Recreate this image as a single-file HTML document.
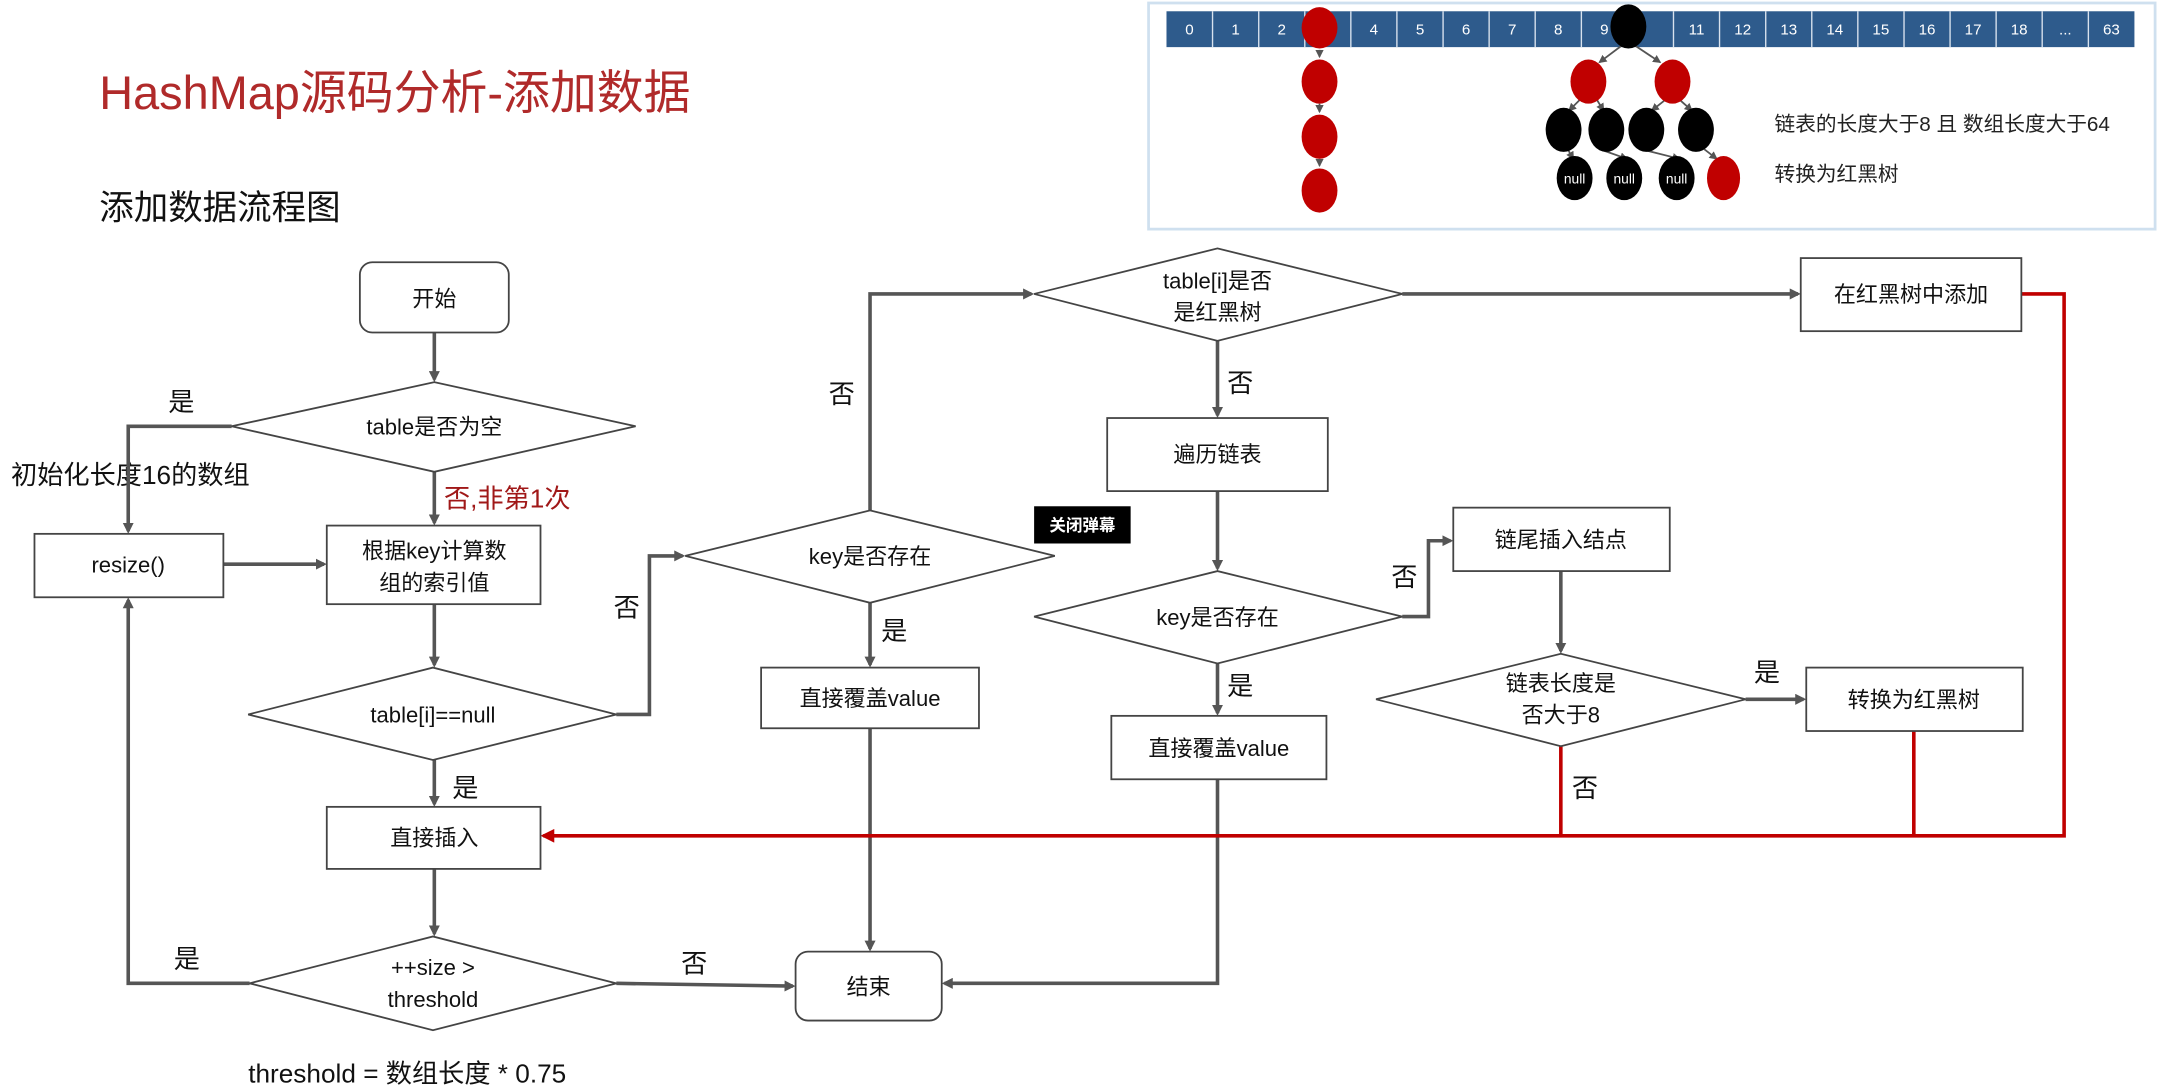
<!DOCTYPE html>
<html><head><meta charset="utf-8"><style>
html,body{margin:0;padding:0;background:#fff;}
svg{display:block;}
text{font-family:"Liberation Sans","Noto Sans CJK SC",sans-serif;}
</style></head><body>
<svg width="2162" height="1087" viewBox="0 0 1568 788" xmlns="http://www.w3.org/2000/svg">
<defs>
<marker id="ag" markerWidth="8" markerHeight="8" refX="6" refY="4" orient="auto" markerUnits="userSpaceOnUse"><path d="M0,0 L8,4 L0,8 z" fill="#555"/></marker>
<marker id="ar" markerWidth="10" markerHeight="10" refX="8" refY="5" orient="auto" markerUnits="userSpaceOnUse"><path d="M0,0 L10,5 L0,10 z" fill="#c00000"/></marker>
<marker id="as" markerWidth="6" markerHeight="6" refX="5" refY="3" orient="auto" markerUnits="userSpaceOnUse"><path d="M0,0 L6,3 L0,6 z" fill="#555"/></marker>
</defs>
<rect width="1568" height="788" fill="#fff"/>
<rect x="833" y="2" width="730" height="164" fill="#fff" stroke="#cfe0ef" stroke-width="2"/>
<g font-size="11" fill="#fff" text-anchor="middle">
<rect x="846" y="8" width="702" height="26" fill="#2e5b8c"/>
<g stroke="#d8e2ee" stroke-width="1">
<line x1="879.4" y1="8" x2="879.4" y2="34"/><line x1="912.9" y1="8" x2="912.9" y2="34"/><line x1="946.3" y1="8" x2="946.3" y2="34"/><line x1="979.7" y1="8" x2="979.7" y2="34"/><line x1="1013.1" y1="8" x2="1013.1" y2="34"/><line x1="1046.6" y1="8" x2="1046.6" y2="34"/><line x1="1080" y1="8" x2="1080" y2="34"/><line x1="1113.4" y1="8" x2="1113.4" y2="34"/><line x1="1146.9" y1="8" x2="1146.9" y2="34"/><line x1="1180.3" y1="8" x2="1180.3" y2="34"/><line x1="1213.7" y1="8" x2="1213.7" y2="34"/><line x1="1247.1" y1="8" x2="1247.1" y2="34"/><line x1="1280.6" y1="8" x2="1280.6" y2="34"/><line x1="1314" y1="8" x2="1314" y2="34"/><line x1="1347.4" y1="8" x2="1347.4" y2="34"/><line x1="1380.9" y1="8" x2="1380.9" y2="34"/><line x1="1414.3" y1="8" x2="1414.3" y2="34"/><line x1="1447.7" y1="8" x2="1447.7" y2="34"/><line x1="1481.1" y1="8" x2="1481.1" y2="34"/><line x1="1514.6" y1="8" x2="1514.6" y2="34"/>
</g>
<text x="862.7" y="25">0</text><text x="896.1" y="25">1</text><text x="929.6" y="25">2</text><text x="996.4" y="25">4</text><text x="1029.9" y="25">5</text><text x="1063.3" y="25">6</text><text x="1096.7" y="25">7</text><text x="1130.1" y="25">8</text><text x="1163.6" y="25">9</text><text x="1230.4" y="25">11</text><text x="1263.9" y="25">12</text><text x="1297.3" y="25">13</text><text x="1330.7" y="25">14</text><text x="1364.1" y="25">15</text><text x="1397.6" y="25">16</text><text x="1431" y="25">17</text><text x="1464.4" y="25">18</text><text x="1497.9" y="25">...</text><text x="1531.3" y="25">63</text>
</g>
<g stroke="#555" stroke-width="1.3">
<line x1="957" y1="36" x2="957" y2="41" marker-end="url(#as)"/><line x1="957" y1="75" x2="957" y2="81" marker-end="url(#as)"/><line x1="957" y1="115" x2="957" y2="120" marker-end="url(#as)"/>
<line x1="1176" y1="33" x2="1160" y2="45" marker-end="url(#as)"/><line x1="1186" y1="33" x2="1204" y2="45" marker-end="url(#as)"/>
<line x1="1146" y1="72" x2="1138" y2="80" marker-end="url(#as)"/><line x1="1158" y1="72" x2="1163" y2="80" marker-end="url(#as)"/>
<line x1="1208" y1="72" x2="1198" y2="80" marker-end="url(#as)"/><line x1="1218" y1="72" x2="1227" y2="80" marker-end="url(#as)"/>
<line x1="1137" y1="108" x2="1141" y2="115" marker-end="url(#as)"/><line x1="1160" y1="108" x2="1180" y2="115" marker-end="url(#as)"/>
<line x1="1190" y1="108" x2="1218" y2="115" marker-end="url(#as)"/><line x1="1236" y1="108" x2="1245" y2="115" marker-end="url(#as)"/>
</g>
<g fill="#c00000">
<ellipse cx="957" cy="20" rx="13" ry="15"/><ellipse cx="957" cy="59" rx="13" ry="16"/><ellipse cx="957" cy="99" rx="13" ry="16"/><ellipse cx="957" cy="138" rx="13" ry="16"/>
<ellipse cx="1152" cy="59" rx="13" ry="16"/><ellipse cx="1213" cy="59" rx="13" ry="16"/><ellipse cx="1250" cy="129" rx="12" ry="16"/>
</g>
<g fill="#000">
<ellipse cx="1181" cy="19" rx="13" ry="16"/>
<ellipse cx="1134" cy="94" rx="13" ry="16"/><ellipse cx="1165" cy="94" rx="13" ry="16"/><ellipse cx="1194" cy="94" rx="13" ry="16"/><ellipse cx="1230" cy="94" rx="13" ry="16"/>
<ellipse cx="1142" cy="129" rx="13" ry="16"/><ellipse cx="1178" cy="129" rx="13" ry="16"/><ellipse cx="1216" cy="129" rx="13" ry="16"/>
</g>
<g font-size="10" fill="#fff" text-anchor="middle"><text x="1142" y="133">null</text><text x="1178" y="133">null</text><text x="1216" y="133">null</text></g>
<text x="1287" y="95" font-size="15" fill="#222">链表的长度大于8 且 数组长度大于64</text>
<text x="1287" y="131" font-size="15" fill="#222">转换为红黑树</text>

<text x="72" y="79" font-size="34" fill="#b02a2a">HashMap源码分析-添加数据</text>
<text x="72" y="159" font-size="25" fill="#111">添加数据流程图</text>
<text x="8" y="351" font-size="19" fill="#111">初始化长度16的数组</text>
<text x="180" y="785" font-size="19" fill="#111">threshold = 数组长度 * 0.75</text>

<g stroke="#555" stroke-width="2.6" fill="none">
<line x1="315" y1="241" x2="315" y2="275" marker-end="url(#ag)"/>
<line x1="315" y1="342" x2="315" y2="379" marker-end="url(#ag)"/>
<polyline points="168,309 93,309 93,385" marker-end="url(#ag)"/>
<line x1="162" y1="409" x2="235" y2="409" marker-end="url(#ag)"/>
<line x1="315" y1="438" x2="315" y2="482" marker-end="url(#ag)"/>
<polyline points="447,518 471,518 471,403 495,403" marker-end="url(#ag)"/>
<line x1="315" y1="551" x2="315" y2="583" marker-end="url(#ag)"/>
<line x1="315" y1="630" x2="315" y2="677" marker-end="url(#ag)"/>
<polyline points="181,713 93,713 93,435" marker-end="url(#ag)"/>
<line x1="447" y1="713" x2="575" y2="715" marker-end="url(#ag)"/>
<polyline points="631,370 631,213 748,213" marker-end="url(#ag)"/>
<line x1="631" y1="437" x2="631" y2="482" marker-end="url(#ag)"/>
<line x1="631" y1="528" x2="631" y2="688" marker-end="url(#ag)"/>
<line x1="1017" y1="213" x2="1304" y2="213" marker-end="url(#ag)"/>
<line x1="883" y1="247" x2="883" y2="301" marker-end="url(#ag)"/>
<line x1="883" y1="356" x2="883" y2="412" marker-end="url(#ag)"/>
<polyline points="1017,447 1036,447 1036,392 1052,392" marker-end="url(#ag)"/>
<line x1="883" y1="481" x2="883" y2="517" marker-end="url(#ag)"/>
<polyline points="883,565 883,713 685,713" marker-end="url(#ag)"/>
<line x1="1132" y1="414" x2="1132" y2="472" marker-end="url(#ag)"/>
<line x1="1266" y1="507" x2="1308" y2="507" marker-end="url(#ag)"/>
</g>
<g stroke="#c00000" stroke-width="2.6" fill="none">
<line x1="1132" y1="541" x2="1132" y2="606"/>
<line x1="1388" y1="530" x2="1388" y2="606"/>
<polyline points="1466,213 1497,213 1497,606 394,606" marker-end="url(#ar)"/>
</g>

<g fill="#fff" stroke="#444" stroke-width="1.3">
<rect x="261" y="190" width="108" height="51" rx="9"/>
<polygon points="168,309 315,277 461,309 315,342"/>
<rect x="237" y="381" width="155" height="57"/>
<rect x="25" y="387" width="137" height="46"/>
<polygon points="180,518 314,484 447,518 314,551"/>
<rect x="237" y="585" width="155" height="45"/>
<polygon points="181,713 314,679 447,713 314,747"/>
<rect x="577" y="690" width="106" height="50" rx="9"/>
<polygon points="497,403 631,370 765,403 631,437"/>
<rect x="552" y="484" width="158" height="44"/>
<polygon points="750,213 883,180 1017,213 883,247"/>
<rect x="1306" y="187" width="160" height="53"/>
<rect x="803" y="303" width="160" height="53"/>
<polygon points="750,447 883,414 1017,447 883,481"/>
<rect x="806" y="519" width="156" height="46"/>
<rect x="1054" y="368" width="157" height="46"/>
<polygon points="998,507 1132,474 1266,507 1132,541"/>
<rect x="1310" y="484" width="157" height="46"/>
</g>
<rect x="750" y="367" width="70" height="27" fill="#000"/>
<text x="785" y="385" font-size="12" fill="#fff" text-anchor="middle" font-weight="bold">关闭弹幕</text>

<g font-size="16" fill="#111" text-anchor="middle">
<text x="315" y="222">开始</text>
<text x="315" y="315">table是否为空</text>
<text x="315" y="405">根据key计算数</text><text x="315" y="428">组的索引值</text>
<text x="93" y="415">resize()</text>
<text x="314" y="524">table[i]==null</text>
<text x="315" y="613">直接插入</text>
<text x="314" y="707">++size &gt;</text><text x="314" y="730">threshold</text>
<text x="630" y="721">结束</text>
<text x="631" y="409">key是否存在</text>
<text x="631" y="512">直接覆盖value</text>
<text x="883" y="209">table[i]是否</text><text x="883" y="232">是红黑树</text>
<text x="1386" y="219">在红黑树中添加</text>
<text x="883" y="335">遍历链表</text>
<text x="883" y="453">key是否存在</text>
<text x="884" y="548">直接覆盖value</text>
<text x="1132" y="397">链尾插入结点</text>
<text x="1132" y="501">链表长度是</text><text x="1132" y="524">否大于8</text>
<text x="1388" y="513">转换为红黑树</text>
</g>
<g font-size="19" fill="#111">
<text x="122" y="298">是</text>
<text x="322" y="368" fill="#a01818">否,非第1次</text>
<text x="445" y="447">否</text>
<text x="328" y="578">是</text>
<text x="126" y="702">是</text>
<text x="494" y="705">否</text>
<text x="601" y="292">否</text>
<text x="639" y="464">是</text>
<text x="890" y="284">否</text>
<text x="1009" y="425">否</text>
<text x="890" y="504">是</text>
<text x="1272" y="494">是</text>
<text x="1140" y="578">否</text>
</g>
</svg>
</body></html>
